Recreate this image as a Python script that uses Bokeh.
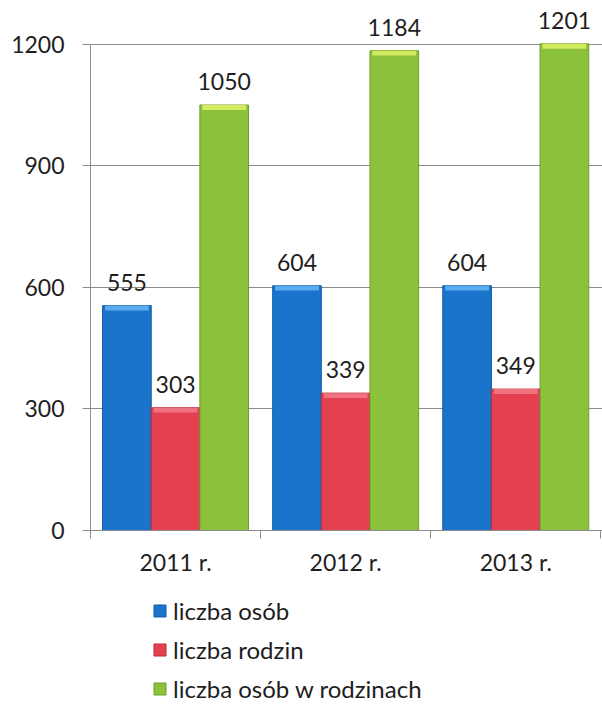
from bokeh.plotting import figure
from bokeh.layouts import column
from bokeh.models import Range1d, FixedTicker, Legend, LegendItem, ColumnDataSource
from bokeh.core.properties import value
from bokeh.transform import dodge
from bokeh.embed import file_html
from bokeh.resources import INLINE

# ---- data ----
years = ["2011 r.", "2012 r.", "2013 r."]
liczba_osob = [555, 604, 604]
liczba_rodzin = [303, 339, 349]
liczba_osob_w_rodzinach = [1050, 1184, 1201]
series_names = ["liczba osób", "liczba rodzin", "liczba osób w rodzinach"]
y_ticks = [0, 300, 600, 900, 1200]

# ---- styles ----
FONT = "Lato"
FS = "23px"
TXT = "#1e1e1e"
GRID = "#8c8c8c"
fills = ["#1a74cc", "#e5404f", "#8cc13c"]
tops = ["#62b2f2", "#f27886", "#d9ef63"]
edges = ["#0f5ca8", "#b52d3b", "#6f9d2b"]
BW = 0.286

idx = [i + 0.5 for i in range(len(years))]
src = ColumnDataSource(dict(
    x=idx, years=years,
    s0=liczba_osob, s1=liczba_rodzin, s2=liczba_osob_w_rodzinach,
    t0=[str(v) for v in liczba_osob],
    t1=[str(v) for v in liczba_rodzin],
    t2=[str(v) for v in liczba_osob_w_rodzinach],
    h0=[v - 12 for v in liczba_osob],
    h1=[v - 12 for v in liczba_rodzin],
    h2=[v - 12 for v in liczba_osob_w_rodzinach],
))

p = figure(width=602, height=590, output_backend="svg", toolbar_location=None,
           x_range=Range1d(0, 3.01), y_range=Range1d(0, 1308),
           min_border_left=90, min_border_right=0, min_border_top=0,
           min_border_bottom=60)
p.outline_line_color = None
p.background_fill_color = "white"
p.border_fill_color = "white"

p.xgrid.visible = False
p.ygrid.ticker = FixedTicker(ticks=y_ticks)
p.ygrid.grid_line_color = GRID
p.ygrid.grid_line_width = 1

# y axis
ya = p.yaxis[0]
ya.ticker = FixedTicker(ticks=y_ticks)
ya.bounds = (0, 1200)
ya.axis_line_color = GRID
ya.major_tick_line_color = GRID
ya.major_tick_out = 8
ya.major_tick_in = 0
ya.minor_tick_out = 0
ya.minor_tick_in = 0
ya.major_label_standoff = 18
ya.major_label_text_font = FONT
ya.major_label_text_font_size = FS
ya.major_label_text_color = TXT

# x axis
xa = p.xaxis[0]
xa.ticker = FixedTicker(ticks=idx, minor_ticks=[0, 1, 2, 3])
xa.major_label_overrides = {v: y for v, y in zip(idx, years)}
xa.axis_line_color = GRID
xa.major_tick_out = 0
xa.major_tick_in = 0
xa.minor_tick_out = 8
xa.minor_tick_in = 0
xa.minor_tick_line_color = GRID
xa.major_label_standoff = 9
xa.major_label_text_font = FONT
xa.major_label_text_font_size = FS
xa.major_label_text_color = TXT

offsets = [-BW, 0, BW]
for k in range(3):
    p.vbar(x=dodge("x", offsets[k], range=p.x_range), top="s%d" % k, bottom=0,
           width=BW, source=src, fill_color=fills[k], line_color=edges[k], line_width=1)
    p.vbar(x=dodge("x", offsets[k], range=p.x_range), top="s%d" % k, bottom="h%d" % k,
           width=BW * 0.9, source=src, fill_color=tops[k], line_color=None, fill_alpha=0.9)
    p.text(x=dodge("x", offsets[k], range=p.x_range), y="s%d" % k, text="t%d" % k, source=src,
           text_align="center", text_baseline="bottom", y_offset=-15,
           text_font=value(FONT), text_font_size=FS, text_color=TXT)

# ---- legend strip ----
p2 = figure(width=602, height=114, output_backend="svg", toolbar_location=None,
            x_range=Range1d(0, 1), y_range=Range1d(0, 1),
            x_axis_location=None, y_axis_location=None,
            min_border_left=0, min_border_right=0, min_border_top=0, min_border_bottom=0)
p2.outline_line_color = None
p2.grid.visible = False
# legend-only glyphs, placed outside the visible range
leg_src = ColumnDataSource(dict(x=[-5], top=[0]))
leg_r = [p2.vbar(x="x", top="top", width=0.1, source=leg_src,
                 fill_color=fills[k], line_color=edges[k]) for k in range(3)]
legend = Legend(items=[LegendItem(label=series_names[k], renderers=[leg_r[k]]) for k in range(3)],
                location=(62, 1), orientation="vertical",
                glyph_width=15, glyph_height=15, label_standoff=6,
                label_height=26, spacing=10, padding=0, margin=0,
                border_line_color=None, background_fill_alpha=0,
                label_text_font=FONT, label_text_font_size="24px", label_text_color=TXT)
p2.add_layout(legend, "center")

open("out.html", "w").write(file_html(column(p, p2, spacing=0), INLINE))
